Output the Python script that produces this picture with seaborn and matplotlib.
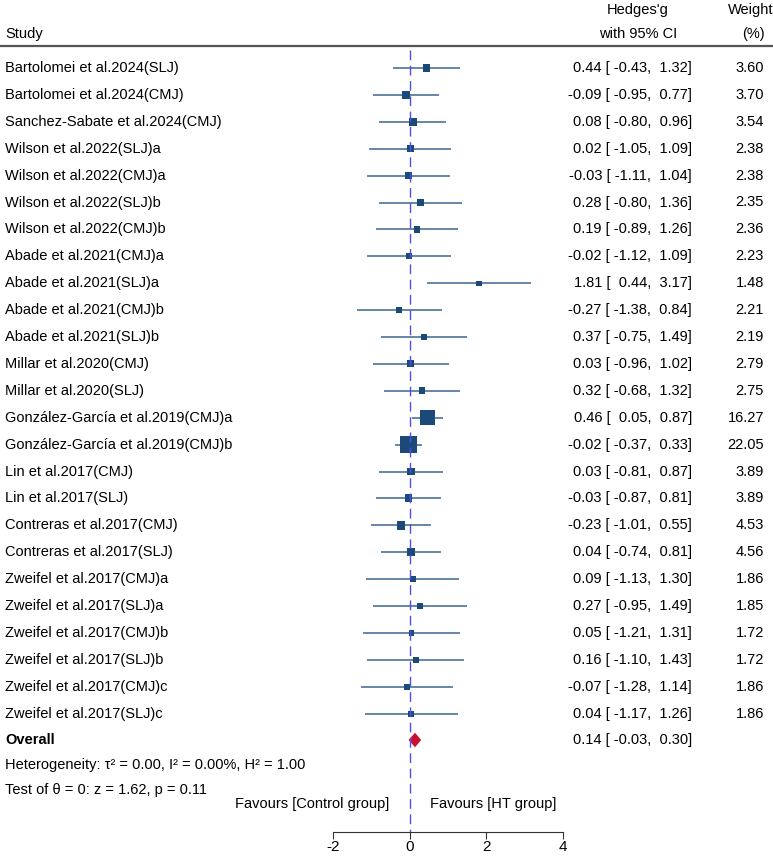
import numpy as np
import pandas as pd
import matplotlib
matplotlib.use("Agg")
import matplotlib.pyplot as plt
import matplotlib.transforms as mtransforms
import seaborn as sns

# 연구별 효과크기 (Hedges' g, 95% CI, 가중치)
studies = [
    "Bartolomei et al.2024(SLJ)", "Bartolomei et al.2024(CMJ)", "Sanchez-Sabate et al.2024(CMJ)",
    "Wilson et al.2022(SLJ)a", "Wilson et al.2022(CMJ)a", "Wilson et al.2022(SLJ)b",
    "Wilson et al.2022(CMJ)b", "Abade et al.2021(CMJ)a", "Abade et al.2021(SLJ)a",
    "Abade et al.2021(CMJ)b", "Abade et al.2021(SLJ)b", "Millar et al.2020(CMJ)",
    "Millar et al.2020(SLJ)", "González-García et al.2019(CMJ)a", "González-García et al.2019(CMJ)b",
    "Lin et al.2017(CMJ)", "Lin et al.2017(SLJ)", "Contreras et al.2017(CMJ)",
    "Contreras et al.2017(SLJ)", "Zweifel et al.2017(CMJ)a", "Zweifel et al.2017(SLJ)a",
    "Zweifel et al.2017(CMJ)b", "Zweifel et al.2017(SLJ)b", "Zweifel et al.2017(CMJ)c",
    "Zweifel et al.2017(SLJ)c",
]
g = [0.44, -0.09, 0.08, 0.02, -0.03, 0.28, 0.19, -0.02, 1.81, -0.27, 0.37, 0.03, 0.32,
     0.46, -0.02, 0.03, -0.03, -0.23, 0.04, 0.09, 0.27, 0.05, 0.16, -0.07, 0.04]
lo = [-0.43, -0.95, -0.80, -1.05, -1.11, -0.80, -0.89, -1.12, 0.44, -1.38, -0.75, -0.96, -0.68,
      0.05, -0.37, -0.81, -0.87, -1.01, -0.74, -1.13, -0.95, -1.21, -1.10, -1.28, -1.17]
hi = [1.32, 0.77, 0.96, 1.09, 1.04, 1.36, 1.26, 1.09, 3.17, 0.84, 1.49, 1.02, 1.32,
      0.87, 0.33, 0.87, 0.81, 0.55, 0.81, 1.30, 1.49, 1.31, 1.43, 1.14, 1.26]
weight = [3.60, 3.70, 3.54, 2.38, 2.38, 2.35, 2.36, 2.23, 1.48, 2.21, 2.19, 2.79, 2.75,
          16.27, 22.05, 3.89, 3.89, 4.53, 4.56, 1.86, 1.85, 1.72, 1.72, 1.86, 1.86]
overall = [0.14, -0.03, 0.30]
x_ticks = [-2, 0, 2, 4]

df = pd.DataFrame({"study": studies, "g": g, "lo": lo, "hi": hi, "weight": weight})
df["row"] = np.arange(len(df))
# 사각형 크기: 한 변이 sqrt(weight)에 비례 (pt^2 면적)
df["msize"] = ((1.2 + 3.4 * np.sqrt(df["weight"])) * 0.72) ** 2

plt.rcParams['font.family'] = ['Liberation Sans', 'DejaVu Sans']
W, H = 773, 859
fig = plt.figure(figsize=(W / 100, H / 100), dpi=100)

# 플롯 영역: x = -2..4 (픽셀 333..563), y는 행 번호 (픽셀 68 에서 시작, 간격 26.9)
row0, step = 68, 26.9
ax = fig.add_axes([333 / W, (H - 832) / H, 230 / W, 832 / H])
ax.set_xlim(-2, 4)
ax.set_ylim((832 - row0) / step, -row0 / step)

sq_color = "#1b4a78"
ln_color = "#4b7199"

ax.hlines(df["row"], df["lo"], df["hi"], color=ln_color, lw=1.2, zorder=2)
smin, smax = df["msize"].min(), df["msize"].max()
sns.scatterplot(data=df, x="g", y="row", size="msize", sizes=(smin, smax),
                size_norm=(smin, smax), marker="s", color=sq_color, edgecolor="none",
                legend=False, ax=ax, zorder=3)

# 전체 효과 (다이아몬드)
y_ov = (740 - row0) / step
dh = 0.27
ax.fill([overall[1], overall[0], overall[2], overall[0]],
        [y_ov, y_ov - dh, y_ov, y_ov + dh], color="#c8102e", zorder=4, lw=0)

# 기준선 x=0
ax.plot([0, 0], [(50 - row0) / step, (832 - row0) / step], color="#4f4ff0", lw=1,
        dashes=(7, 4), zorder=5)

for s in ["top", "right", "left"]:
    ax.spines[s].set_visible(False)
ax.spines["bottom"].set_bounds(-2, 4)
ax.spines["bottom"].set_color("#333333")
ax.set_yticks([])
ax.set_xticks(x_ticks)
ax.set_xticklabels([str(t) for t in x_ticks])
ax.tick_params(axis="x", length=5, color="#333333", labelsize=11, pad=1)
ax.set_xlabel("")
ax.set_ylabel("")

tr = mtransforms.blended_transform_factory(fig.transFigure, ax.transData)
fs = 10.5


def fx(px):
    return px / W


def ry(py):
    return (py - row0) / step


# 헤더
ax.text(fx(5), ry(34), "Study", transform=tr, ha="left", va="center", fontsize=fs)
ax.text(fx(638), ry(10), "Hedges'g", transform=tr, ha="center", va="center", fontsize=fs)
ax.text(fx(638), ry(34), "with 95% CI", transform=tr, ha="center", va="center", fontsize=fs)
ax.text(fx(751), ry(10), "Weight", transform=tr, ha="center", va="center", fontsize=fs)
ax.text(fx(753), ry(34), "(%)", transform=tr, ha="center", va="center", fontsize=fs)
fig.add_artist(plt.Line2D([0, 1], [1 - 46 / H, 1 - 46 / H], color="#555555", lw=1.6))

for i, r in df.iterrows():
    ax.text(fx(5), r["row"], r["study"], transform=tr, ha="left", va="center", fontsize=fs)
    ax.text(fx(692), r["row"], f"{r['g']:.2f} [{r['lo']:6.2f}, {r['hi']:5.2f}]",
            transform=tr, ha="right", va="center", fontsize=fs)
    ax.text(fx(764), r["row"], f"{r['weight']:.2f}", transform=tr, ha="right",
            va="center", fontsize=fs)

ax.text(fx(5), y_ov, "Overall", transform=tr, ha="left", va="center", fontsize=fs,
        fontweight="bold")
ax.text(fx(692), y_ov, f"{overall[0]:.2f} [{overall[1]:6.2f}, {overall[2]:5.2f}]",
        transform=tr, ha="right", va="center", fontsize=fs)
ax.text(fx(5), ry(765), "Heterogeneity: τ² = 0.00, I² = 0.00%, H² = 1.00",
        transform=tr, ha="left", va="center", fontsize=fs)
ax.text(fx(5), ry(790), "Test of θ = 0: z = 1.62, p = 0.11", transform=tr,
        ha="left", va="center", fontsize=fs)
ax.text(fx(389), ry(804), "Favours [Control group]", transform=tr, ha="right",
        va="center", fontsize=fs)
ax.text(fx(430), ry(804), "Favours [HT group]", transform=tr, ha="left",
        va="center", fontsize=fs)

fig.savefig("out.png", dpi=100)
